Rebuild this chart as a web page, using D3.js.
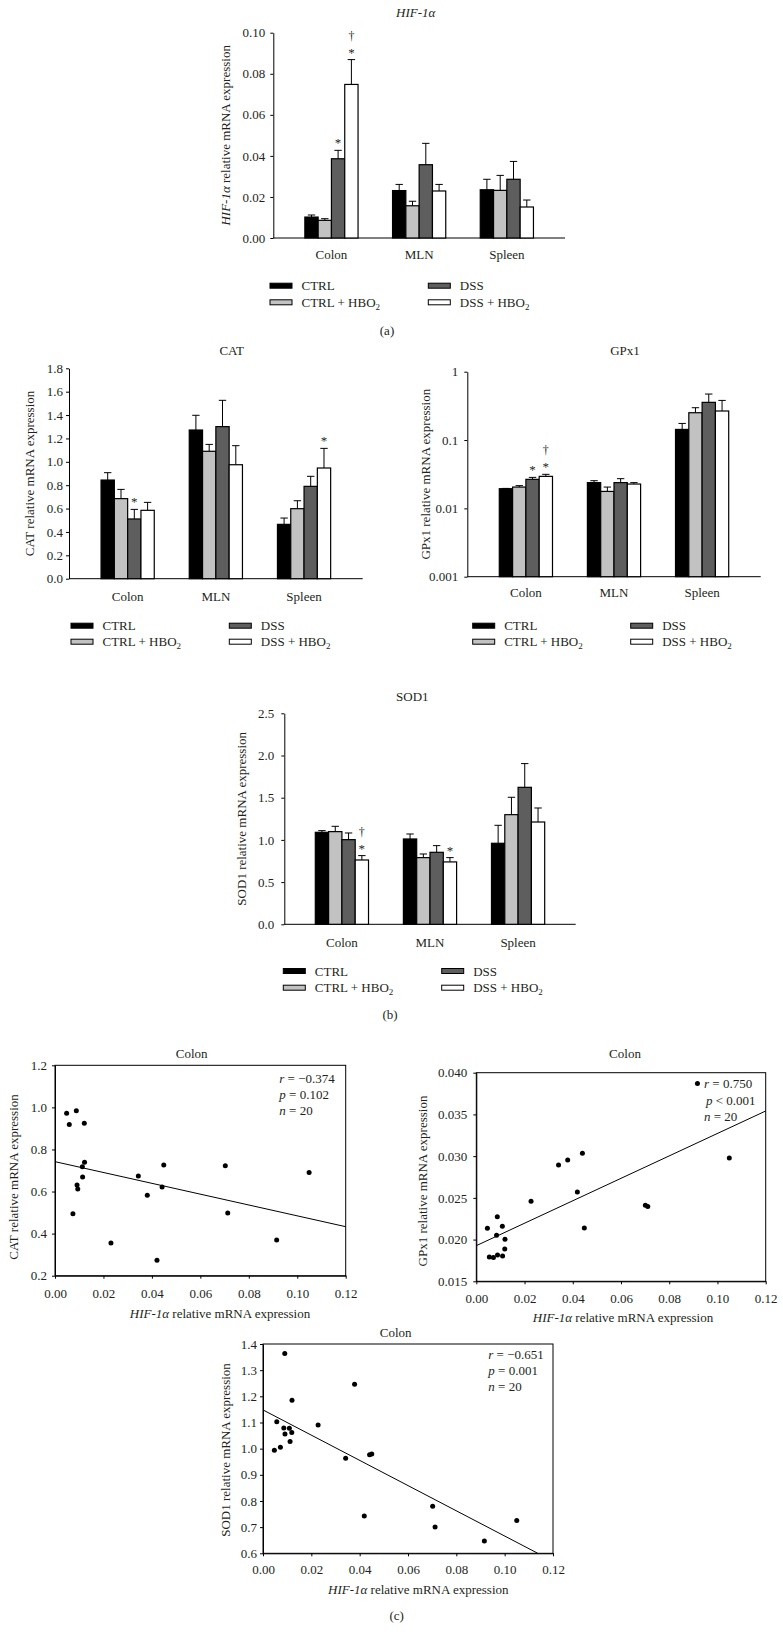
<!DOCTYPE html>
<html><head><meta charset="utf-8">
<script src="https://cdn.jsdelivr.net/npm/d3@7"></script>
<style>
body{margin:0;background:#fff}
svg{display:block}
text{font-family:"Liberation Serif","Times New Roman",serif;fill:#231f20}
</style>
</head><body>
<svg id="c" width="783" height="1641"></svg>
<script>
// ---------------- DATA ----------------
const tissues = ["Colon", "MLN", "Spleen"];
const groups = ["CTRL", "CTRL + HBO2", "DSS", "DSS + HBO2"];
const groupColors = ["#000000", "#c2c2c2", "#5e5e5e", "#ffffff"];

// HIF-1α (rows: tissues, cols: groups)
const hifMean = [[0.0102, 0.0086, 0.0386, 0.0748], [0.0231, 0.0157, 0.0357, 0.0229], [0.0235, 0.0232, 0.0286, 0.0151]];
const hifErr  = [[0.0010, 0.0008, 0.0041, 0.0121], [0.0030, 0.0022, 0.0104, 0.0032], [0.0051, 0.0073, 0.0087, 0.0034]];
const hifMarks = [[0, 2, "*"], [0, 3, "*"], [0, 3, "†"]];
const hifTicks = [0, 0.02, 0.04, 0.06, 0.08, 0.10];

// CAT
const catMean = [[0.844, 0.685, 0.511, 0.585], [1.272, 1.090, 1.301, 0.975], [0.465, 0.599, 0.790, 0.947]];
const catErr  = [[0.063, 0.079, 0.082, 0.068], [0.126, 0.059, 0.225, 0.163], [0.054, 0.068, 0.086, 0.168]];
const catMarks = [[0, 2, "*"], [2, 3, "*"]];
const catTicks = [0, 0.2, 0.4, 0.6, 0.8, 1.0, 1.2, 1.4, 1.6, 1.8];

// GPx1 (log axis)
const gpxMean = [[0.0194, 0.0205, 0.0266, 0.0294], [0.0238, 0.0177, 0.0238, 0.0227], [0.143, 0.251, 0.356, 0.266]];
const gpxErr  = [[0.0002, 0.0010, 0.0018, 0.0021], [0.0016, 0.0028, 0.0034, 0.0011], [0.032, 0.046, 0.115, 0.114]];
const gpxMarks = [[0, 2, "*"], [0, 3, "*"], [0, 3, "†"]];
const gpxTicks = [0.001, 0.01, 0.1, 1];

// SOD1
const sodMean = [[1.090, 1.098, 1.003, 0.762], [1.011, 0.790, 0.853, 0.739], [0.960, 1.299, 1.623, 1.212]];
const sodErr  = [[0.020, 0.063, 0.079, 0.052], [0.059, 0.043, 0.079, 0.051], [0.213, 0.206, 0.281, 0.166]];
const sodMarks = [[0, 3, "*"], [0, 3, "†"], [1, 3, "*"]];
const sodTicks = [0, 0.5, 1.0, 1.5, 2.0, 2.5];

// Scatter: HIF-1α (x) vs CAT (y), colon
const scCatX = [0.0048, 0.0059, 0.0088, 0.0121, 0.0074, 0.0091, 0.0094, 0.0114, 0.0113, 0.0122, 0.0231, 0.0344, 0.0381, 0.0421, 0.0442, 0.0449, 0.0703, 0.0713, 0.0915, 0.1049];
const scCatY = [0.972, 0.919, 0.984, 0.924, 0.495, 0.631, 0.612, 0.669, 0.718, 0.739, 0.355, 0.674, 0.582, 0.274, 0.622, 0.726, 0.723, 0.498, 0.370, 0.690];
const scCatFit = [[0, 0.742], [0.12, 0.433]];
const scCatStats = ["r", " = −0.374", "p", " = 0.102", "n", " = 20"];
const scCatYTicks = [0.2, 0.4, 0.6, 0.8, 1.0, 1.2];

// Scatter: HIF-1α (x) vs GPx1 (y)
const scGpxX = [0.0046, 0.0054, 0.0071, 0.0084, 0.0087, 0.0088, 0.0109, 0.0108, 0.0119, 0.0118, 0.0227, 0.0341, 0.0379, 0.0419, 0.0440, 0.0448, 0.0701, 0.0711, 0.0917, 0.1049];
const scGpxY = [0.02135, 0.01792, 0.01784, 0.02051, 0.02275, 0.01815, 0.01804, 0.02159, 0.02003, 0.01887, 0.02458, 0.02894, 0.02954, 0.02570, 0.03034, 0.02139, 0.02411, 0.02395, 0.03870, 0.02978];
const scGpxFit = [[0, 0.01927], [0.12, 0.03541]];
const scGpxStats = ["r", " = 0.750", "p", " < 0.001", "n", " = 20"];
const scGpxYTicks = [0.015, 0.020, 0.025, 0.030, 0.035, 0.040];

// Scatter: HIF-1α (x) vs SOD1 (y)
const scSodX = [0.0047, 0.0057, 0.0072, 0.0086, 0.0090, 0.0091, 0.0109, 0.0112, 0.0119, 0.0120, 0.0228, 0.0342, 0.0379, 0.0419, 0.0441, 0.0450, 0.0702, 0.0712, 0.0916, 0.1050];
const scSodY = [0.994, 1.103, 1.005, 1.079, 1.364, 1.056, 1.078, 1.027, 1.062, 1.185, 1.090, 0.963, 1.246, 0.743, 0.977, 0.980, 0.780, 0.701, 0.647, 0.725];
const scSodFit = [[0, 1.148], [0.1137, 0.600]];
const scSodStats = ["r", " = −0.651", "p", " = 0.001", "n", " = 20"];
const scSodYTicks = [0.6, 0.7, 0.8, 0.9, 1.0, 1.1, 1.2, 1.3, 1.4];

const scXTicks = [0, 0.02, 0.04, 0.06, 0.08, 0.10, 0.12];

// ---------------- DRAW ----------------
const svg = d3.select("#c");
const FS = 13;

function styleAxis(sel) {
  sel.selectAll("path").attr("stroke", "#000").attr("stroke-width", 1);
  sel.selectAll("line").attr("stroke", "#000").attr("stroke-width", 1);
  sel.selectAll("text").attr("font-size", FS).attr("fill", "#231f20")
    .style("font-family", '"Liberation Serif","Times New Roman",serif');
}

function hifLabel(t, suffix) {
  t.append("tspan").attr("font-style", "italic").text("HIF-1α");
  t.append("tspan").text(suffix);
}

function groupText(t, name) {
  if (name.endsWith("HBO2")) {
    t.append("tspan").text(name.slice(0, -1));
    t.append("tspan").attr("font-size", 9).attr("dy", 3).text("2");
  } else t.text(name);
}

function barPanel(p) {
  const g = svg.append("g");
  const x = d3.scalePoint().domain(tissues).range([p.x0, p.x1]).padding(p.pad);
  const bw = 13.3;
  const xs = d3.scaleBand().domain(groups).range([-2 * bw, 2 * bw]);
  const y = (p.log ? d3.scaleLog() : d3.scaleLinear()).domain(p.domain).range([p.yBot, p.yTop]);

  const ax = g.append("g").attr("transform", `translate(${p.x0},0)`)
    .call(d3.axisLeft(y).tickValues(p.ticks).tickFormat(p.fmt).tickSize(3).tickSizeOuter(0).tickPadding(p.tp));
  styleAxis(ax);
  g.append("line").attr("x1", p.x0).attr("x2", p.x1).attr("y1", p.yBot).attr("y2", p.yBot)
    .attr("stroke", "#000").attr("stroke-width", 1);

  // category labels
  g.selectAll(".cat").data(tissues).enter().append("text")
    .attr("x", d => x(d)).attr("y", p.yBot + p.catOff).attr("dy", "0.35em")
    .attr("text-anchor", "middle").attr("font-size", FS).text(d => d);

  const bars = [];
  tissues.forEach((t, i) => groups.forEach((gr, j) => bars.push({ t, gr, i, j, m: p.means[i][j], e: p.errs[i][j] })));
  // error bars
  const eb = g.append("g").attr("stroke", "#000").attr("stroke-width", 1);
  bars.forEach(b => {
    const cx = x(b.t) + xs(b.gr) + xs.bandwidth() / 2;
    eb.append("line").attr("x1", cx).attr("x2", cx).attr("y1", y(b.m)).attr("y2", y(b.m + b.e));
    eb.append("line").attr("x1", cx - 3.7).attr("x2", cx + 3.7).attr("y1", y(b.m + b.e)).attr("y2", y(b.m + b.e));
  });
  g.selectAll(".bar").data(bars).enter().append("rect")
    .attr("x", d => x(d.t) + xs(d.gr)).attr("width", xs.bandwidth())
    .attr("y", d => y(d.m)).attr("height", d => p.yBot - y(d.m))
    .attr("fill", d => groupColors[d.j]).attr("stroke", "#000").attr("stroke-width", 1.2);

  // significance marks
  p.marks.forEach(([i, j, s]) => {
    const cx = x(tissues[i]) + xs(groups[j]) + xs.bandwidth() / 2;
    const top = y(p.means[i][j] + p.errs[i][j]);
    g.append("text").attr("x", cx).attr("y", s === "*" ? top - 3 : top - 20)
      .attr("text-anchor", "middle").attr("font-size", s === "*" ? 13 : 12).attr("fill", "#555").text(s);
  });

  // title
  const tt = g.append("text").attr("x", p.tx).attr("y", p.ty).attr("dy", "0.35em")
    .attr("text-anchor", "middle").attr("font-size", FS);
  if (p.italicTitle) tt.attr("font-style", "italic");
  tt.text(p.title);

  // y label
  const yl = g.append("text").attr("transform", `translate(${p.ylx},${(p.yTop + p.yBot) / 2}) rotate(-90)`)
    .attr("dy", "0.35em").attr("text-anchor", "middle").attr("font-size", FS);
  if (p.hifY) hifLabel(yl, " relative mRNA expression"); else yl.text(p.ylabel);

  // legend
  groups.forEach((gr, j) => {
    const lx = j < 2 ? p.lx1 : p.lx2;
    const ly = p.rows[j % 2];
    g.append("rect").attr("x", lx).attr("y", ly - 2.5).attr("width", 22).attr("height", 5)
      .attr("fill", groupColors[j]).attr("stroke", "#000").attr("stroke-width", 1);
    const t = g.append("text").attr("x", lx + 31.5).attr("y", ly).attr("dy", "0.35em").attr("font-size", FS);
    groupText(t, gr);
  });
}

function scatterPanel(p) {
  const g = svg.append("g");
  const x = d3.scaleLinear().domain([0, 0.12]).range([p.x0, p.x1]);
  const y = d3.scaleLinear().domain(p.ydom).range([p.yBot, p.yTop]);
  g.append("rect").attr("x", p.x0).attr("y", p.yTop).attr("width", p.x1 - p.x0).attr("height", p.yBot - p.yTop)
    .attr("fill", "none").attr("stroke", "#000").attr("stroke-width", 1);
  const ay = g.append("g").attr("transform", `translate(${p.x0},0)`)
    .call(d3.axisLeft(y).tickValues(p.yticks).tickFormat(d3.format(p.yfmt)).tickSize(3).tickSizeOuter(0).tickPadding(p.tp));
  styleAxis(ay);
  const axx = g.append("g").attr("transform", `translate(0,${p.yBot})`)
    .call(d3.axisBottom(x).tickValues(scXTicks).tickFormat(d3.format(".2f")).tickSize(3).tickSizeOuter(0).tickPadding(0));
  styleAxis(axx);
  axx.selectAll("text").attr("dy", null).attr("y", p.xtOff).attr("dominant-baseline", "central");

  // regression line
  g.append("line").attr("x1", x(p.fit[0][0])).attr("y1", y(p.fit[0][1]))
    .attr("x2", x(p.fit[1][0])).attr("y2", y(p.fit[1][1])).attr("stroke", "#000").attr("stroke-width", 1);
  // points
  g.selectAll("circle").data(p.xs).enter().append("circle")
    .attr("cx", d => x(d)).attr("cy", (d, i) => y(p.ys[i])).attr("r", 2.5).attr("fill", "#000");

  // title
  g.append("text").attr("x", p.tx).attr("y", p.ty).attr("dy", "0.35em").attr("text-anchor", "middle")
    .attr("font-size", FS).text("Colon");
  // x label
  const xl = g.append("text").attr("x", p.xlx).attr("y", p.xly).attr("dy", "0.35em")
    .attr("text-anchor", "middle").attr("font-size", FS);
  hifLabel(xl, " relative mRNA expression");
  // y label
  g.append("text").attr("transform", `translate(${p.ylx},${p.yly}) rotate(-90)`).attr("dy", "0.35em")
    .attr("text-anchor", "middle").attr("font-size", FS).text(p.ylabel);
  // stats
  for (let k = 0; k < 3; k++) {
    const t = g.append("text").attr("x", p.sx[k]).attr("y", p.sy[k]).attr("dy", "0.35em").attr("font-size", FS);
    t.append("tspan").attr("font-style", "italic").text(p.stats[2 * k]);
    t.append("tspan").text(p.stats[2 * k + 1]);
  }
}

barPanel({ x0: 273.3, x1: 565, yTop: 32.7, yBot: 238, pad: 0.663, domain: [0, 0.10], ticks: hifTicks,
  fmt: d3.format(".2f"), tp: 5, means: hifMean, errs: hifErr, marks: hifMarks, catOff: 16,
  title: "HIF-1α", italicTitle: true, tx: 415.7, ty: 12, hifY: true, ylx: 225,
  lx1: 270, lx2: 428.3, rows: [285.7, 302.3] });

barPanel({ x0: 69, x1: 362.7, yTop: 368.3, yBot: 578.7, pad: 0.665, domain: [0, 1.8], ticks: catTicks,
  fmt: d3.format(".1f"), tp: 3, means: catMean, errs: catErr, marks: catMarks, catOff: 18,
  title: "CAT", tx: 231.7, ty: 350.7, ylabel: "CAT relative mRNA expression", ylx: 29,
  lx1: 71, lx2: 229.3, rows: [625.7, 641.7] });

barPanel({ x0: 467.3, x1: 760.7, yTop: 371.7, yBot: 576.7, pad: 0.665, log: true, domain: [0.001, 1], ticks: gpxTicks,
  fmt: d => String(d), tp: 6, means: gpxMean, errs: gpxErr, marks: gpxMarks, catOff: 16,
  title: "GPx1", tx: 625, ty: 350.7, ylabel: "GPx1 relative mRNA expression", ylx: 425,
  lx1: 472.7, lx2: 630.7, rows: [625.7, 641.7] });

barPanel({ x0: 284.3, x1: 575.7, yTop: 713.3, yBot: 924.3, pad: 0.654, domain: [0, 2.5], ticks: sodTicks,
  fmt: d3.format(".1f"), tp: 7, means: sodMean, errs: sodErr, marks: sodMarks, catOff: 18,
  title: "SOD1", tx: 412.3, ty: 696.7, ylabel: "SOD1 relative mRNA expression", ylx: 241,
  lx1: 283.3, lx2: 441.7, rows: [971, 987.7] });

scatterPanel({ x0: 55, x1: 345.7, yTop: 1065.3, yBot: 1275.7, ydom: [0.2, 1.2], yticks: scCatYTicks, yfmt: ".1f",
  tp: 5, xtOff: 17.6, xs: scCatX, ys: scCatY, fit: scCatFit, tx: 191.7, ty: 1053.3, xlx: 220, xly: 1313.3,
  ylx: 13.3, yly: 1177, ylabel: "CAT relative mRNA expression", stats: scCatStats,
  sx: [279.3, 279.3, 279.3], sy: [1078.3, 1094, 1110] });

scatterPanel({ x0: 476.3, x1: 765.7, yTop: 1072.7, yBot: 1281.3, ydom: [0.015, 0.040], yticks: scGpxYTicks, yfmt: ".3f",
  tp: 6, xtOff: 17, xs: scGpxX, ys: scGpxY, fit: scGpxFit, tx: 625, ty: 1053.3, xlx: 623, xly: 1317,
  ylx: 422.7, yly: 1181, ylabel: "GPx1 relative mRNA expression", stats: scGpxStats,
  sx: [704, 706, 704], sy: [1083.3, 1100, 1116.7] });

scatterPanel({ x0: 263, x1: 553, yTop: 1344, yBot: 1553.3, ydom: [0.6, 1.4], yticks: scSodYTicks, yfmt: ".1f",
  tp: 3, xtOff: 16.7, xs: scSodX, ys: scSodY, fit: scSodFit, tx: 395.7, ty: 1332.3, xlx: 418.3, xly: 1589.3,
  ylx: 225, yly: 1450, ylabel: "SOD1 relative mRNA expression", stats: scSodStats,
  sx: [488.3, 488.3, 488.3], sy: [1354.3, 1370, 1386.7] });

// panel letters
[["(a)", 387, 330], ["(b)", 390, 1014.3], ["(c)", 396.7, 1615]].forEach(([s, lx, ly]) =>
  svg.append("text").attr("x", lx).attr("y", ly).attr("dy", "0.35em").attr("text-anchor", "middle")
    .attr("font-size", FS).text(s));
</script>
</body></html>
